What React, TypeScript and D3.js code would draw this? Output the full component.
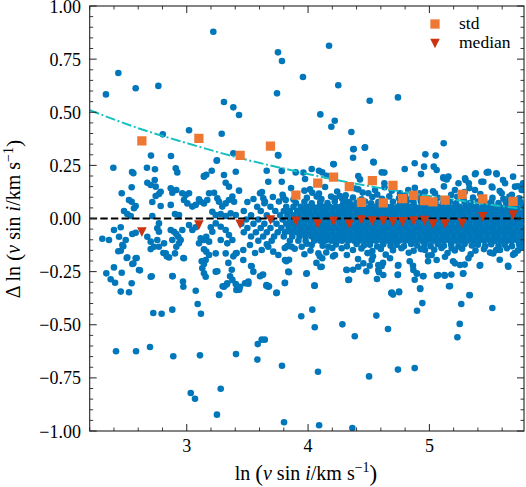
import React from "react";
import * as d3 from "d3";

// ---------- data ----------
const xDomain: [number, number] = [2.2, 5.78];
const yDomain: [number, number] = [-1, 1];
const xMajorTicks = [3, 4, 5];
const yMajorTicks = [-1, -0.75, -0.5, -0.25, 0, 0.25, 0.5, 0.75, 1];

// binned std of the residuals (orange squares)
const binX = [2.63, 3.10, 3.44, 3.69, 3.90, 4.08, 4.21, 4.34, 4.44, 4.53, 4.62, 4.70, 4.78, 4.87, 4.96, 5.03, 5.13, 5.27, 5.44, 5.69];
const stdY = [0.365, 0.377, 0.297, 0.341, 0.110, 0.167, 0.195, 0.150, 0.076, 0.178, 0.073, 0.156, 0.093, 0.109, 0.084, 0.078, 0.087, 0.114, 0.092, 0.081];
// binned median (red triangles)
const medianY = [-0.064, -0.031, -0.027, -0.007, -0.013, -0.026, -0.013, -0.027, -0.007, -0.012, -0.012, -0.015, -0.015, -0.012, -0.010, -0.026, -0.026, -0.023, 0.008, 0.016];

// dash-dot trend curve
const fitX = [2.2, 2.6, 3.0, 3.4, 3.8, 4.2, 4.6, 5.0, 5.4, 5.78];
const fitY = [0.51, 0.425, 0.355, 0.29, 0.235, 0.185, 0.143, 0.106, 0.073, 0.045];

// individual stars: sparse points above the band
const upperPoints: [number, number][] = [
  [2.334, 0.584], [2.436, 0.685], [2.579, 0.613], [2.766, 0.624], [3.219, 0.879], [2.802, 0.396], [3.019, 0.415],
  [3.307, 0.548], [3.384, 0.523], [3.431, 0.487], [3.288, 0.399], [3.249, 0.274], [3.384, 0.307], [3.404, 0.220],
  [2.395, 0.239], [2.705, 0.296], [2.870, 0.294], [2.549, 0.219], [2.56, 0.213], [2.672, 0.239], [2.738, 0.232],
  [2.909, 0.236], [2.922, 0.217], [2.736, 0.181], [2.675, 0.168], [2.703, 0.158], [2.744, 0.150], [2.546, 0.147],
  [2.868, 0.142], [2.914, 0.134], [2.881, 0.121], [2.785, 0.126], [2.771, 0.115], [2.744, 0.106], [2.464, 0.119],
  [3.142, 0.2], [3.161, 0.206], [3.206, 0.225], [3.247, 0.272], [3.307, 0.205], [3.321, 0.168], [3.348, 0.150],
  [3.184, 0.119], [3.225, 0.121], [3.252, 0.095], [3.266, 0.079], [3.142, 0.197],
  [3.752, 0.782], [3.785, 0.741], [3.744, 0.589], [3.752, 0.299], [3.958, 0.666], [4.173, 0.813], [4.249, 0.627],
  [4.101, 0.49], [4.22, 0.46], [4.192, 0.432], [4.212, 0.255], [4.357, 0.407], [4.376, 0.327], [4.371, 0.286],
  [4.467, 0.333], [4.541, 0.264], [4.508, 0.554], [4.741, 0.57], [5.118, 0.354], [4.967, 0.302], [5.052, 0.296],
  [4.879, 0.26], [4.797, 0.233], [4.956, 0.244], [5.036, 0.244], [5.06, 0.228], [3.755, 0.296], [4.208, 0.256],
  [4.03, 0.233], [3.659, 0.225], [3.898, 0.217], [4.117, 0.217], [4.154, 0.201], [4.414, 0.2], [4.607, 0.217],
  [3.672, 0.173], [3.783, 0.173], [3.975, 0.186], [4.016, 0.137], [4.035, 0.121], [4.071, 0.103], [4.414, 0.137],
  [3.431, 0.131], [3.604, 0.119], [3.631, 0.095], [3.645, 0.079], [3.796, 0.1], [3.816, 0.087], [4.222, 0.095],
  [4.263, 0.106], [4.305, 0.087], [4.36, 0.064], [4.497, 0.119], [4.552, 0.134], [4.373, 0.326], [4.47, 0.335],
  [4.538, 0.267], [4.629, 0.216], [4.931, 0.209], [5.115, 0.194], [5.143, 0.184], [5.376, 0.208], [5.486, 0.217],
  [5.555, 0.208], [5.298, 0.181], [5.325, 0.166], [5.445, 0.173], [5.514, 0.15], [5.624, 0.166], [5.706, 0.15],
  [5.761, 0.134], [4.758, 0.119], [4.826, 0.134], [4.964, 0.126], [5.046, 0.119], [5.211, 0.134], [5.376, 0.134],
  [5.596, 0.119], [5.382, 0.213], [5.484, 0.22], [5.552, 0.213], [5.429, 0.173], [5.607, 0.181], [5.69, 0.197],
  [5.772, 0.166], [4.09, 0.225], [4.428, 0.184], [4.629, 0.166], [5.116, 0.189], [5.157, 0.197], [5.24, 0.166],
  [5.294, 0.189], [5.473, 0.216], [3.783, 0.224], [3.961, 0.216],
];

// upper edge of the crowded band
const upperFringe: [number, number][] = [
  [3.86, 0.143], [4.14, 0.148], [4.39, 0.141], [4.63, 0.147], [4.88, 0.144], [5.12, 0.151], [5.33, 0.143], [5.52, 0.146], [5.73, 0.152],
  [3.62, 0.125], [3.79, 0.112], [3.97, 0.131], [4.09, 0.118], [4.24, 0.127], [4.31, 0.109], [4.45, 0.122], [4.57, 0.113],
  [4.69, 0.131], [4.80, 0.108], [4.92, 0.119], [5.03, 0.128], [5.18, 0.111], [5.29, 0.124], [5.42, 0.115], [5.58, 0.129], [5.68, 0.112],
  [3.55, 0.092], [3.71, 0.101], [3.88, 0.089], [3.99, 0.097], [4.11, 0.092], [4.19, 0.103], [4.28, 0.094], [4.37, 0.099],
  [4.44, 0.09], [4.53, 0.101], [4.61, 0.093], [4.67, 0.104], [4.75, 0.095], [4.84, 0.09], [4.90, 0.1], [4.98, 0.093],
  [5.07, 0.098], [5.14, 0.091], [5.23, 0.102], [5.28, 0.094], [5.36, 0.099], [5.45, 0.09], [5.52, 0.097], [5.61, 0.093],
  [5.66, 0.103], [5.74, 0.095],
  [3.50, 0.078], [3.64, 0.072], [3.76, 0.08], [3.90, 0.073], [3.97, 0.079], [4.03, 0.071], [4.10, 0.077], [4.16, 0.073],
  [4.22, 0.08], [4.29, 0.072], [4.34, 0.078], [4.40, 0.074], [4.47, 0.08], [4.52, 0.071], [4.58, 0.077], [4.63, 0.073],
  [4.70, 0.079], [4.76, 0.072], [4.81, 0.078], [4.87, 0.074], [4.93, 0.08], [5.00, 0.071], [5.05, 0.077], [5.11, 0.073],
  [5.17, 0.079], [5.22, 0.072], [5.29, 0.078], [5.34, 0.074], [5.40, 0.08], [5.46, 0.071], [5.51, 0.077], [5.57, 0.073],
  [5.63, 0.079], [5.69, 0.072], [5.75, 0.078],
];

// lower edge of the crowded band
const lowerFringe: [number, number][] = [
  [3.66, -0.121], [3.83, -0.13], [3.99, -0.119], [4.12, -0.128], [4.23, -0.122], [4.32, -0.131], [4.40, -0.12], [4.46, -0.127],
  [4.51, -0.123], [4.57, -0.132], [4.62, -0.121], [4.68, -0.128], [4.73, -0.124], [4.79, -0.131], [4.85, -0.12], [4.90, -0.127],
  [4.96, -0.123], [5.01, -0.13], [5.07, -0.121], [5.12, -0.128], [5.18, -0.124], [5.24, -0.131], [5.29, -0.12], [5.35, -0.127],
  [5.40, -0.123], [5.46, -0.13], [5.51, -0.121], [5.57, -0.128], [5.62, -0.124], [5.68, -0.13], [5.74, -0.122],
  [3.89, -0.142], [4.02, -0.151], [4.20, -0.139], [4.37, -0.148], [4.44, -0.141], [4.53, -0.153], [4.60, -0.143], [4.70, -0.149],
  [4.77, -0.14], [4.87, -0.152], [4.93, -0.144], [5.04, -0.147], [5.10, -0.139], [5.21, -0.15], [5.27, -0.142], [5.38, -0.151],
  [5.45, -0.144], [5.55, -0.148], [5.64, -0.14], [5.73, -0.15],
  [3.97, -0.168], [4.15, -0.16], [4.32, -0.172], [4.49, -0.163], [4.64, -0.17], [4.83, -0.161], [4.99, -0.174], [5.15, -0.162],
  [5.34, -0.169], [5.50, -0.16], [5.69, -0.171],
];

// sparse points near zero on the low-velocity side
const leftPoints: [number, number][] = [
  [2.524, 0.087], [2.546, 0.079], [2.716, 0.078], [2.785, 0.059], [2.579, 0.059], [2.565, 0.048], [2.868, 0.064],
  [2.483, 0.035], [2.51, 0.021], [2.538, 0.012], [2.716, 0.012], [2.903, 0.021], [2.936, 0.016], [2.963, 0.119],
  [2.991, 0.111], [3.019, 0.119], [2.977, 0.087], [3.005, 0.071], [3.046, 0.056], [3.074, 0.064], [3.101, 0.090],
  [3.115, 0.079], [3.142, 0.071], [3.169, 0.087], [3.293, 0.056], [3.321, 0.071], [3.348, 0.087], [3.376, 0.103],
  [3.39, 0.079], [3.211, 0.032], [3.239, 0.016], [3.28, 0.021], [3.321, 0.012], [3.362, 0.024], [3.404, 0.016],
  [2.4, -0.054], [2.456, -0.041], [2.304, -0.095], [2.359, -0.101], [2.442, -0.086], [2.497, -0.101], [2.469, -0.125],
  [2.456, -0.152], [2.551, -0.073], [2.579, -0.067], [2.51, -0.183], [2.579, -0.187], [2.551, -0.214], [2.606, -0.242],
  [2.337, -0.258], [2.373, -0.286], [2.409, -0.302], [2.464, -0.255], [2.4, -0.23], [2.456, -0.344], [2.524, -0.347],
  [2.546, -0.305], [2.703, -0.274], [2.675, -0.086], [2.703, -0.109], [2.73, -0.133], [2.771, -0.133], [2.757, -0.101],
  [2.771, -0.023], [2.757, -0.046], [2.771, -0.062], [2.868, -0.054], [2.895, -0.062], [2.914, -0.073], [2.93, -0.086],
  [2.95, -0.101], [2.881, -0.101], [2.936, -0.117], [2.914, -0.133], [2.963, -0.054], [2.813, -0.117], [2.827, -0.164],
  [2.854, -0.183], [2.903, -0.164], [2.977, -0.187], [2.881, -0.271], [2.969, -0.297], [2.972, -0.321], [3.074, -0.34],
  [3.019, -0.031], [3.046, -0.054], [3.074, -0.041], [3.115, -0.093], [3.101, -0.117], [3.142, -0.101], [3.161, -0.086],
  [3.184, -0.109], [3.142, -0.145], [3.161, -0.156], [3.184, -0.172], [3.156, -0.195], [3.142, -0.214], [3.128, -0.234],
  [3.142, -0.258], [3.156, -0.274], [3.239, -0.25], [3.266, -0.36], [3.307, -0.321], [3.334, -0.305], [3.376, -0.289],
  [3.404, -0.308], [3.409, -0.336], [3.239, -0.023], [3.28, -0.039], [3.321, -0.054], [3.348, -0.078], [3.376, -0.101],
  [3.404, -0.164], [3.321, -0.164], [3.239, -0.164], [3.198, -0.041], [3.211, -0.062], [3.334, -0.117], [3.28, -0.101],
  [2.505, -0.186], [2.56, -0.212], [2.587, -0.186], [2.614, -0.244], [2.436, -0.154], [2.477, -0.131], [2.703, -0.144],
  [2.807, -0.162], [2.835, -0.178], [3.123, -0.201],
];

// sparse points below the band
const lowerPoints: [number, number][] = [
  [2.724, -0.445], [2.793, -0.448], [2.881, -0.429], [2.972, -0.186], [2.884, -0.272], [2.711, -0.272], [3.09, -0.402],
  [3.117, -0.448], [2.417, -0.625], [2.582, -0.625], [2.697, -0.605], [2.889, -0.648], [3.109, -0.644], [3.406, -0.638],
  [3.033, -0.821], [3.068, -0.848], [3.28, -0.801], [3.249, -0.923], [3.252, -0.248], [3.268, -0.358], [3.296, -0.319],
  [3.329, -0.311], [3.357, -0.272], [3.371, -0.241], [3.343, -0.209], [3.384, -0.178], [3.412, -0.162], [3.433, -0.335],
  [3.494, -0.304], [3.508, -0.307], [3.535, -0.225], [3.563, -0.162], [3.604, -0.272], [3.585, -0.591], [3.582, -0.664],
  [3.618, -0.57], [3.643, -0.57], [3.629, -0.264], [3.656, -0.316], [3.678, -0.319], [3.738, -0.351], [3.785, -0.693],
  [3.802, -0.959], [3.808, -0.304], [3.843, -0.253], [3.821, -0.201], [3.843, -0.194], [3.808, -0.139], [3.944, -0.46],
  [3.986, -0.26], [4.035, -0.429], [4.055, -0.512], [4.055, -0.316], [4.082, -0.721], [4.091, -0.973], [4.069, -0.209],
  [4.102, -0.228], [4.097, -0.178], [4.206, -0.178], [4.283, -0.498], [4.316, -0.241], [4.338, -0.288], [4.371, -0.241],
  [4.385, -0.554], [4.365, -0.986], [4.412, -0.191], [4.48, -0.248], [4.508, -0.222], [4.535, -0.178], [4.568, -0.285],
  [4.563, -0.457], [4.585, -0.253], [4.503, -0.743], [4.618, -0.209], [4.659, -0.52], [4.686, -0.351], [4.7, -0.358],
  [4.741, -0.264], [4.75, -0.347], [4.741, -0.222], [4.741, -0.711], [4.879, -0.704], [4.838, -0.201], [4.865, -0.222],
  [4.879, -0.288], [4.898, -0.26], [4.925, -0.332], [4.942, -0.398], [4.898, -0.434], [4.948, -0.272], [4.989, -0.201],
  [5.063, -0.269], [5.127, -0.269], [5.162, -0.319], [5.181, -0.264], [5.195, -0.201], [5.231, -0.559], [5.25, -0.496],
  [5.263, -0.402], [5.277, -0.26], [5.291, -0.217], [5.333, -0.361], [5.415, -0.222], [5.519, -0.421], [5.511, -0.162],
  [5.58, -0.194], [5.648, -0.222], [5.703, -0.162], [3.466, -0.148], [3.521, -0.125], [3.618, -0.148], [3.672, -0.133],
  [3.713, -0.156], [3.755, -0.172], [3.81, -0.195], [3.837, -0.25], [3.466, -0.195], [3.53, -0.224], [3.549, -0.25],
  [3.623, -0.266], [3.659, -0.313], [3.672, -0.321], [3.742, -0.349], [3.81, -0.302], [3.439, -0.321], [3.48, -0.305],
  [3.508, -0.297], [3.989, -0.258], [4.052, -0.316], [4.085, -0.164], [4.117, -0.187], [4.112, -0.227], [4.222, -0.172],
  [4.319, -0.242], [4.332, -0.289], [4.414, -0.227], [4.456, -0.211], [4.525, -0.195], [4.579, -0.219], [4.62, -0.266],
  [3.865, -0.133], [3.948, -0.133], [4.03, -0.125], [4.167, -0.133], [4.277, -0.14], [4.579, -0.242], [4.607, -0.224],
  [4.676, -0.187], [4.744, -0.219], [4.739, -0.266], [4.896, -0.258], [4.951, -0.271], [4.868, -0.242], [4.923, -0.328],
  [4.69, -0.349], [4.75, -0.344], [4.964, -0.148], [5.019, -0.172], [5.06, -0.195], [5.129, -0.18], [5.184, -0.14],
  [5.211, -0.211], [5.253, -0.219], [5.28, -0.258], [5.322, -0.187], [5.419, -0.219], [5.527, -0.164], [5.582, -0.148],
  [5.651, -0.227], [5.706, -0.164], [5.761, -0.133], [5.17, -0.318], [5.33, -0.36], [5.074, -0.266], [5.124, -0.266],
];

// the crowded core of the band around zero, read row by row (y of the row, x of each star)
const bandRowY = [0.055, 0.035, 0.015, -0.005, -0.025, -0.045, -0.065, -0.085, -0.105];
const bandRowX: number[][] = [
  [3.58, 3.69, 3.82, 3.88, 3.94, 3.99, 4.04, 4.09, 4.13, 4.18, 4.23, 4.27, 4.32, 4.37, 4.41, 4.46, 4.51, 4.55, 4.60, 4.65, 4.69, 4.74, 4.79, 4.83, 4.88, 4.93, 4.97, 5.02, 5.07, 5.11, 5.16, 5.21, 5.25, 5.30, 5.35, 5.39, 5.44, 5.49, 5.53, 5.58, 5.63, 5.67, 5.72, 5.77],
  [3.47, 3.61, 3.73, 3.80, 3.85, 3.91, 3.96, 4.01, 4.06, 4.11, 4.15, 4.20, 4.25, 4.29, 4.34, 4.39, 4.43, 4.48, 4.53, 4.57, 4.62, 4.67, 4.71, 4.76, 4.81, 4.85, 4.90, 4.95, 4.99, 5.04, 5.09, 5.13, 5.18, 5.23, 5.27, 5.32, 5.37, 5.41, 5.46, 5.51, 5.55, 5.60, 5.65, 5.69, 5.74, 5.78],
  [3.53, 3.66, 3.77, 3.83, 3.88, 3.93, 3.98, 4.03, 4.08, 4.13, 4.17, 4.22, 4.27, 4.31, 4.36, 4.41, 4.45, 4.50, 4.55, 4.59, 4.64, 4.69, 4.73, 4.78, 4.83, 4.87, 4.92, 4.97, 5.01, 5.06, 5.11, 5.15, 5.20, 5.25, 5.29, 5.34, 5.39, 5.43, 5.48, 5.53, 5.57, 5.62, 5.67, 5.71, 5.76],
  [3.49, 3.59, 3.70, 3.79, 3.85, 3.90, 3.95, 4.00, 4.05, 4.10, 4.14, 4.19, 4.24, 4.28, 4.33, 4.38, 4.42, 4.47, 4.52, 4.56, 4.61, 4.66, 4.70, 4.75, 4.80, 4.84, 4.89, 4.94, 4.98, 5.03, 5.08, 5.12, 5.17, 5.22, 5.26, 5.31, 5.36, 5.40, 5.45, 5.50, 5.54, 5.59, 5.64, 5.68, 5.73, 5.77],
  [3.45, 3.55, 3.64, 3.74, 3.82, 3.87, 3.92, 3.97, 4.02, 4.07, 4.12, 4.16, 4.21, 4.26, 4.30, 4.35, 4.40, 4.44, 4.49, 4.54, 4.58, 4.63, 4.68, 4.72, 4.77, 4.82, 4.86, 4.91, 4.96, 5.00, 5.05, 5.10, 5.14, 5.19, 5.24, 5.28, 5.33, 5.38, 5.42, 5.47, 5.52, 5.56, 5.61, 5.66, 5.70, 5.75],
  [3.50, 3.61, 3.69, 3.78, 3.84, 3.89, 3.94, 3.99, 4.04, 4.09, 4.13, 4.18, 4.23, 4.27, 4.32, 4.37, 4.41, 4.46, 4.51, 4.55, 4.60, 4.65, 4.69, 4.74, 4.79, 4.83, 4.88, 4.93, 4.97, 5.02, 5.07, 5.11, 5.16, 5.21, 5.25, 5.30, 5.35, 5.39, 5.44, 5.49, 5.53, 5.58, 5.63, 5.67, 5.72, 5.77],
  [3.47, 3.57, 3.66, 3.75, 3.81, 3.86, 3.91, 3.96, 4.01, 4.06, 4.11, 4.15, 4.20, 4.25, 4.29, 4.34, 4.39, 4.43, 4.48, 4.53, 4.57, 4.62, 4.67, 4.71, 4.76, 4.81, 4.85, 4.90, 4.95, 4.99, 5.04, 5.09, 5.13, 5.18, 5.23, 5.27, 5.32, 5.37, 5.41, 5.46, 5.51, 5.55, 5.60, 5.65, 5.69, 5.74, 5.78],
  [3.53, 3.63, 3.72, 3.80, 3.87, 3.93, 3.98, 4.03, 4.08, 4.13, 4.17, 4.22, 4.27, 4.31, 4.36, 4.41, 4.45, 4.50, 4.55, 4.59, 4.64, 4.69, 4.73, 4.78, 4.83, 4.87, 4.92, 4.97, 5.01, 5.06, 5.11, 5.15, 5.20, 5.25, 5.29, 5.34, 5.39, 5.43, 5.48, 5.53, 5.57, 5.62, 5.67, 5.71, 5.76],
  [3.59, 3.70, 3.85, 3.92, 3.98, 4.05, 4.10, 4.14, 4.19, 4.24, 4.28, 4.33, 4.38, 4.42, 4.47, 4.52, 4.56, 4.61, 4.66, 4.70, 4.75, 4.80, 4.84, 4.89, 4.94, 4.98, 5.03, 5.08, 5.12, 5.17, 5.22, 5.26, 5.31, 5.36, 5.40, 5.45, 5.50, 5.54, 5.59, 5.64, 5.68, 5.73, 5.77],
];

const legendLabels = ["std", "median"];

// ---------- styling ----------
const W = 526;
const H = 487;
const PLOT = { left: 89.7, right: 524, top: 6, bottom: 431 };
const BLUE = "#0077BB";
const ORANGE = "#EE7733";
const RED = "#CC3311";
const CYAN = "#17c0c0";
const FONT = "'Liberation Serif', 'DejaVu Serif', serif";

const trianglePath = (s: number) => `M${-s / 2},${-s / 2}L${s / 2},${-s / 2}L0,${s / 2}Z`;

export default function App() {
  const x = d3.scaleLinear().domain(xDomain).range([PLOT.left, PLOT.right]);
  const y = d3.scaleLinear().domain(yDomain).range([PLOT.bottom, PLOT.top]);

  const xMinor = d3.range(11, 29).map((i) => i / 5).filter((v) => !xMajorTicks.some((m) => Math.abs(m - v) < 1e-9));
  const yMinor = d3.range(-20, 21).map((i) => i / 20).filter((v) => !yMajorTicks.some((m) => Math.abs(m - v) < 1e-9));

  const bandPoints: [number, number][] = [];
  bandRowX.forEach((row, i) => row.forEach((xv) => bandPoints.push([xv, bandRowY[i]])));
  const allPoints = [...upperPoints, ...leftPoints, ...lowerPoints, ...upperFringe, ...lowerFringe, ...bandPoints];

  const fitLine = d3
    .line<number>()
    .x((_, i) => x(fitX[i]))
    .y((d) => y(d))
    .curve(d3.curveMonotoneX)(fitY) as string;

  const fmt = d3.format(".2f");
  const majorLen = 7;
  const minorLen = 3.5;
  const tickStroke = "#222";
  const tickFont = 18;

  return (
    <svg
      width={W}
      height={H}
      viewBox={`0 0 ${W} ${H}`}
      style={{ position: "absolute", left: 0, top: 0, background: "#fff" }}
      fontFamily={FONT}
    >
      <defs>
        <clipPath id="plotclip">
          <rect x={PLOT.left} y={PLOT.top} width={PLOT.right - PLOT.left} height={PLOT.bottom - PLOT.top} />
        </clipPath>
      </defs>
      <rect x={0} y={0} width={W} height={H} fill="#fff" />

      <g clipPath="url(#plotclip)">
        {allPoints.map((p, i) => (
          <circle key={i} cx={x(p[0])} cy={y(p[1])} r={3.3} fill={BLUE} />
        ))}
        <line
          x1={x(xDomain[0])}
          x2={x(xDomain[1])}
          y1={y(0)}
          y2={y(0)}
          stroke="#000"
          strokeWidth={2}
          strokeDasharray="7.4,3.2"
        />
        <path d={fitLine} fill="none" stroke={CYAN} strokeWidth={2} strokeDasharray="10,2.6,2,2.6" />
        {binX.map((bx, i) => (
          <path key={`s${i}`} d={d3.symbol(d3.symbolSquare, 86)() as string} transform={`translate(${x(bx)},${y(stdY[i])})`} fill={ORANGE} />
        ))}
        {binX.map((bx, i) => (
          <path key={`m${i}`} d={trianglePath(9.6)} transform={`translate(${x(bx)},${y(medianY[i])})`} fill={RED} />
        ))}
      </g>

      {/* frame */}
      <rect
        x={PLOT.left}
        y={PLOT.top}
        width={PLOT.right - PLOT.left}
        height={PLOT.bottom - PLOT.top}
        fill="none"
        stroke={tickStroke}
        strokeWidth={1.1}
      />

      {/* x ticks */}
      {xMajorTicks.map((t) => (
        <g key={`xM${t}`}>
          <line x1={x(t)} x2={x(t)} y1={PLOT.bottom} y2={PLOT.bottom - majorLen} stroke={tickStroke} strokeWidth={1} />
          <line x1={x(t)} x2={x(t)} y1={PLOT.top} y2={PLOT.top + majorLen} stroke={tickStroke} strokeWidth={1} />
          <text x={x(t)} y={452} textAnchor="middle" fontSize={tickFont} fill="#000">
            {t}
          </text>
        </g>
      ))}
      {xMinor.map((t) => (
        <g key={`xm${t}`}>
          <line x1={x(t)} x2={x(t)} y1={PLOT.bottom} y2={PLOT.bottom - minorLen} stroke={tickStroke} strokeWidth={0.9} />
          <line x1={x(t)} x2={x(t)} y1={PLOT.top} y2={PLOT.top + minorLen} stroke={tickStroke} strokeWidth={0.9} />
        </g>
      ))}

      {/* y ticks */}
      {yMajorTicks.map((t) => (
        <g key={`yM${t}`}>
          <line x1={PLOT.left} x2={PLOT.left + majorLen} y1={y(t)} y2={y(t)} stroke={tickStroke} strokeWidth={1} />
          <line x1={PLOT.right} x2={PLOT.right - majorLen} y1={y(t)} y2={y(t)} stroke={tickStroke} strokeWidth={1} />
          <text x={81} y={y(t) + 6.6} textAnchor="end" fontSize={tickFont} fill="#000">
            {fmt(t)}
          </text>
        </g>
      ))}
      {yMinor.map((t) => (
        <g key={`ym${t}`}>
          <line x1={PLOT.left} x2={PLOT.left + minorLen} y1={y(t)} y2={y(t)} stroke={tickStroke} strokeWidth={0.9} />
          <line x1={PLOT.right} x2={PLOT.right - minorLen} y1={y(t)} y2={y(t)} stroke={tickStroke} strokeWidth={0.9} />
        </g>
      ))}

      {/* x label */}
      <text x={306} y={480} textAnchor="middle" fontSize={20} fill="#000">
        <tspan>ln </tspan>
        <tspan fontSize={23} dy={1}>(</tspan>
        <tspan fontStyle="italic" dy={-1}>v</tspan>
        <tspan> sin </tspan>
        <tspan fontStyle="italic">i</tspan>
        <tspan>/km s</tspan>
        <tspan fontSize={14} dy={-8}>−1</tspan>
        <tspan fontSize={23} dy={9}>)</tspan>
      </text>

      {/* y label */}
      <text transform={`translate(20,219) rotate(-90)`} textAnchor="middle" fontSize={20} fill="#000">
        <tspan>Δ ln </tspan>
        <tspan fontSize={22} dy={1}>(</tspan>
        <tspan fontStyle="italic" dy={-1}>v</tspan>
        <tspan> sin </tspan>
        <tspan fontStyle="italic">i</tspan>
        <tspan>/km s</tspan>
        <tspan fontSize={14} dy={-7}>−1</tspan>
        <tspan fontSize={22} dy={8}>)</tspan>
      </text>

      {/* legend */}
      <path d={d3.symbol(d3.symbolSquare, 86)() as string} transform="translate(435,24)" fill={ORANGE} />
      <text x={459} y={29} fontSize={17.5} fill="#000">
        {legendLabels[0]}
      </text>
      <path d={trianglePath(9.6)} transform="translate(435,43.5)" fill={RED} />
      <text x={459} y={48} fontSize={17.5} fill="#000">
        {legendLabels[1]}
      </text>
    </svg>
  );
}
